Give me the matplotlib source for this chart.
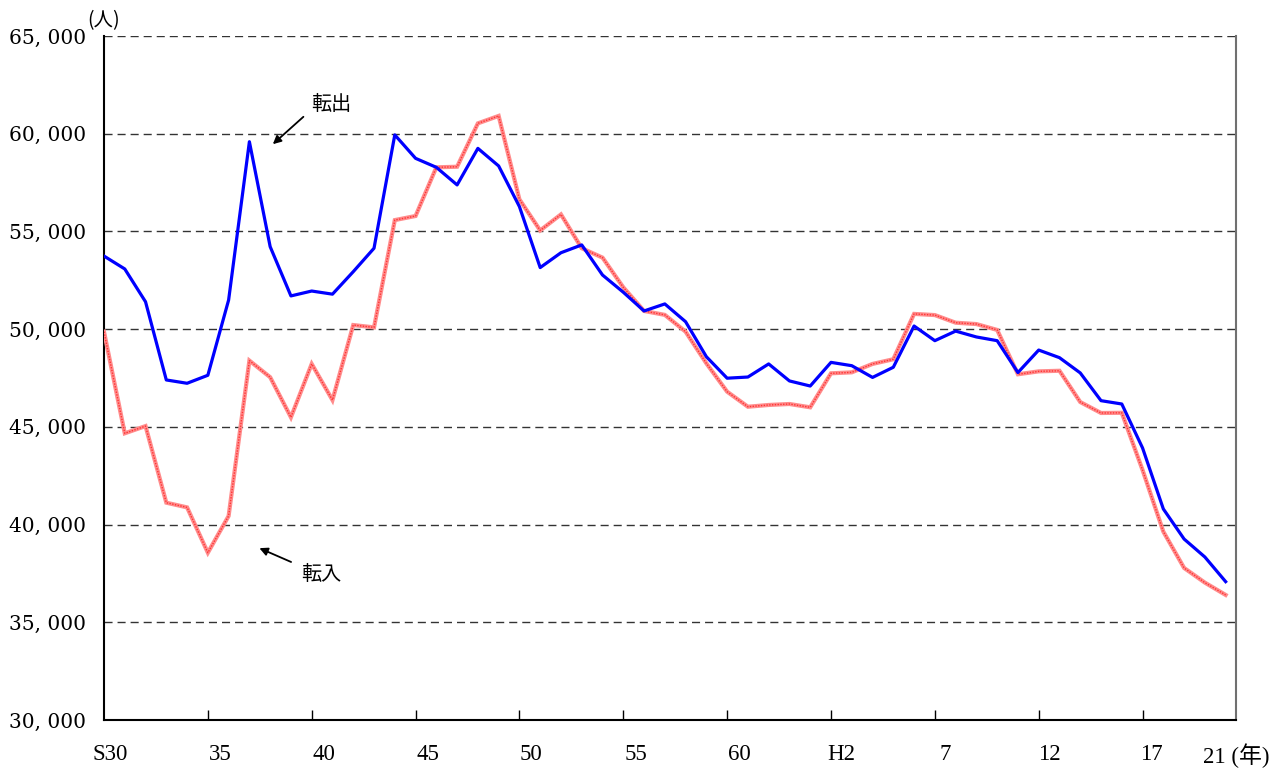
import numpy as np
import matplotlib
matplotlib.use("Agg")
import matplotlib.pyplot as plt

plt.rcParams["font.family"] = ["DejaVu Serif", "Noto Sans CJK JP"]

years = np.arange(1955, 2010)
# 転出 (out-migration)
tenshutsu = [53740, 53080, 51400, 47400, 47230, 47640, 51490, 59590, 54220, 51700,
             51950, 51790, 52940, 54140, 59940, 58740, 58280, 57380, 59250, 58350,
             56270, 53150, 53910, 54310, 52770, 51890, 50930, 51290, 50380, 48590,
             47490, 47550, 48220, 47350, 47090, 48300, 48130, 47530, 48050, 50160,
             49410, 49900, 49600, 49410, 47780, 48930, 48540, 47760, 46340, 46170,
             43920, 40800, 39260, 38340, 37080]
# 転入 (in-migration)
tennyu = [49870, 44670, 45040, 41120, 40880, 38560, 40440, 48390, 47540, 45490,
          48220, 46370, 50210, 50090, 55580, 55790, 58280, 58310, 60530, 60910,
          56640, 55050, 55870, 54140, 53660, 52140, 50930, 50730, 49870, 48250,
          46800, 46030, 46120, 46170, 46000, 47740, 47790, 48220, 48460, 50780,
          50720, 50330, 50260, 49960, 47690, 47840, 47870, 46270, 45710, 45720,
          42790, 39640, 37780, 37030, 36400]

tick_years = [1960, 1965, 1970, 1975, 1980, 1985, 1990, 1995, 2000, 2005]
label_pos = [1955.3, 1960.6, 1965.6, 1970.6, 1975.55, 1980.6, 1985.6, 1990.5,
             1995.5, 2000.5, 2005.4, 2009.5]
label_txt = ["S30", "35", "40", "45", "50", "55", "60", "H2", "7", "12", "17", "21 (年)"]
y_ticks = [30000, 35000, 40000, 45000, 50000, 55000, 60000, 65000]

fig = plt.figure(figsize=(12.87, 7.69), dpi=100)
ax = fig.add_axes([0.0808, 0.0637, 0.8796, 0.8895])

ax.plot(years, tennyu, color="#ff8c8c", lw=3.0, solid_joinstyle="miter", zorder=3)
ax.plot(years, tennyu, color="#ff3333", lw=1.0, ls=(0, (1, 1)), zorder=3)
ax.plot(years, tenshutsu, color="#0000ff", lw=2.3, zorder=4)

ax.set_xlim(1955, 2009)
ax.set_ylim(30000, 65000)
ax.set_yticks(y_ticks)
ax.set_yticklabels([f"{v // 1000}, {v % 1000:03d}" for v in y_ticks], fontsize=14.5)
ax.tick_params(axis="y", length=0, pad=13)

ax.set_xticks(tick_years, minor=True)
ax.tick_params(axis="x", which="minor", direction="in", length=7, width=1, color="black")
ax.set_xticks(label_pos)
ax.set_xticklabels(label_txt, family=["Liberation Serif", "Noto Sans CJK JP"], fontsize=16.5)
ax.tick_params(axis="x", which="major", length=0, pad=17)

for v in y_ticks[1:]:
    ax.axhline(v, color="#333333", lw=1.0, ls=(0, (5.8, 3.6)), zorder=1)

for s in ["left", "bottom"]:
    ax.spines[s].set_linewidth(1.5)
    ax.spines[s].set_color("black")
ax.spines["right"].set_color("#707070")
ax.spines["right"].set_linewidth(1.5)
ax.spines["top"].set_visible(False)

ax.text(0, 1.023, "(人)", transform=ax.transAxes, ha="center", va="center",
        fontsize=14, family=["Noto Sans CJK JP"])
ax.text(1965.94, 61470, "転出", ha="center", va="center", fontsize=14.5,
        family=["Noto Sans CJK JP"])
ax.text(1965.46, 37470, "転入", ha="center", va="center", fontsize=14.5,
        family=["Noto Sans CJK JP"])
ax.annotate("", xy=(1963.03, 59370), xytext=(1964.7, 60960),
            arrowprops=dict(arrowstyle="-|>", color="black", lw=1.3, mutation_scale=12))
ax.annotate("", xy=(1962.36, 38850), xytext=(1964.13, 38030),
            arrowprops=dict(arrowstyle="-|>", color="black", lw=1.3, mutation_scale=12))

fig.savefig("out.png", dpi=100)
